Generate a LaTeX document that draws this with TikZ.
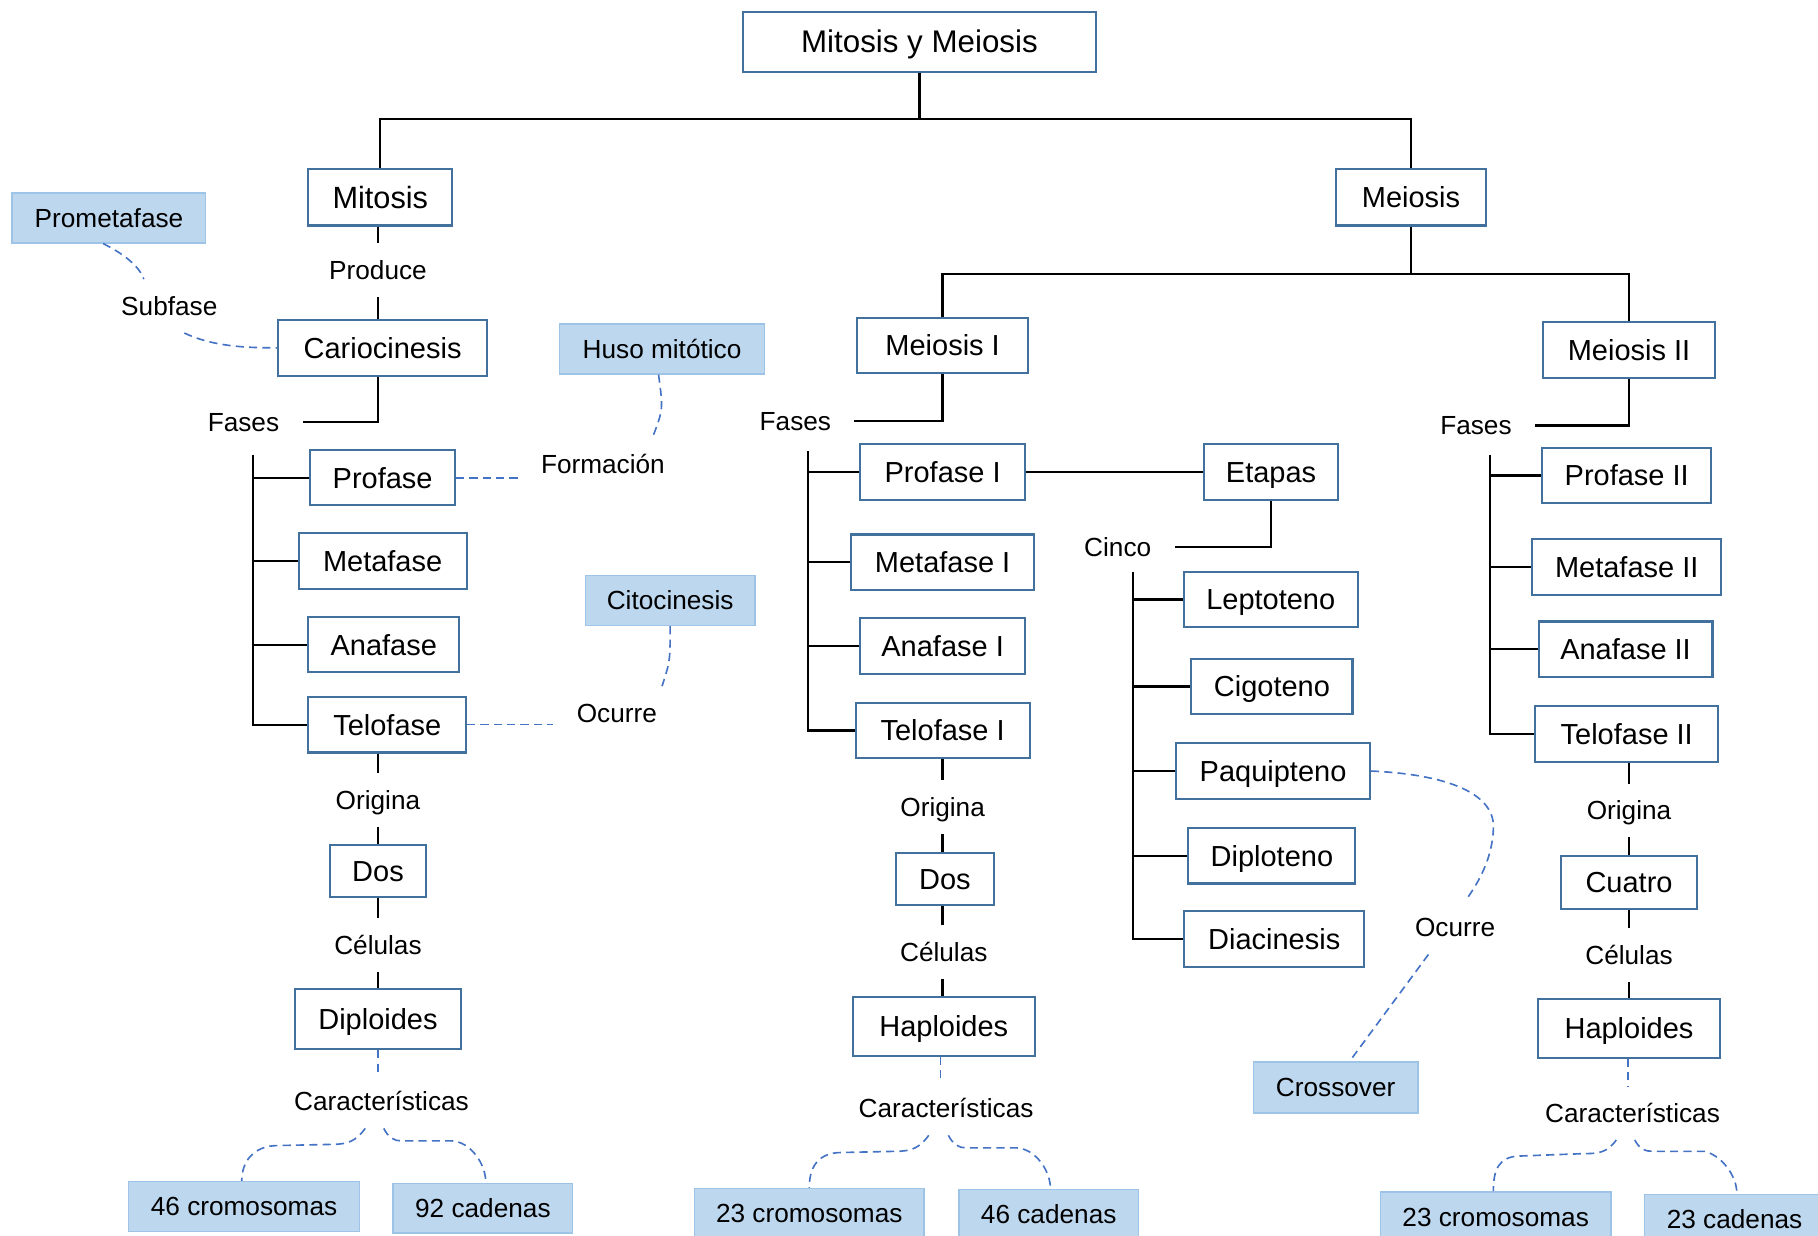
\documentclass[tikz,border=0pt]{standalone}
\usepackage{fontspec}
\setmainfont{Liberation Sans}
\usepackage{tikz}
\usepackage{xcolor}
\usetikzlibrary{positioning}

\definecolor{boxline}{RGB}{65,113,156}
\definecolor{notefill}{RGB}{189,215,238}
\definecolor{noteline}{RGB}{157,195,230}
\definecolor{dashblue}{RGB}{68,114,196}

\tikzset{
  phase/.style={draw=boxline, line width=1.8pt, fill=white, inner xsep=8pt, inner ysep=0pt,
    text height=17.9pt, text depth=0pt, minimum height=48pt, font=\fontsize{25}{30}\selectfont},
  note/.style={draw=noteline, line width=1.2pt, fill=notefill, inner xsep=8pt, inner ysep=0pt,
    text height=16.2pt, text depth=0pt, minimum height=43pt, font=\fontsize{22.6}{27}\selectfont},
  lbl/.style={inner xsep=20pt, inner ysep=0pt, text height=16.2pt, text depth=0pt,
    minimum height=46pt, font=\fontsize{22.6}{27}\selectfont},
  link/.style={line width=2pt},
  dashline/.style={dashblue, line width=1.4pt, dash pattern=on 7pt off 4.5pt},
}

\begin{document}
\begin{tikzpicture}[x=1pt, y=-1pt]
\useasboundingbox (0,0) rectangle (1568,1066);
\clip (0,0) rectangle (1568,1066);

% top of the tree
\node[phase, minimum width=304pt, minimum height=52pt, text height=19.3pt, font=\fontsize{27}{32}\selectfont] (root) at (793,36) {Mitosis y Meiosis};
\node[phase, minimum width=124pt, minimum height=49pt, text height=19pt, font=\fontsize{26.5}{32}\selectfont] (mitosis) at (328,170) {Mitosis};
\node[phase, minimum width=129pt, minimum height=49pt] (meiosis) at (1217,170) {Meiosis};

\draw[link] (root.south) -- ++(0,40) coordinate (split);
\draw[link] (split) -| (mitosis.north);
\draw[link] (split) -| (meiosis.north);

% mitosis
\node[lbl] (produce) at (326,233) {Produce};
\node[phase, minimum width=180pt] (cario) at (330,300) {Cariocinesis};
\node[note, minimum width=167pt] (prometa) at (94,188) {Prometafase};
\node[lbl] (subfase) at (146,264) {Subfase};
\node[lbl] (fases1) at (210,364) {Fases};
\node[phase, minimum width=125pt, minimum height=47pt] (prof) at (330,412) {Profase};
\node[phase, minimum width=145pt] (meta) at (330,484) {Metafase};
\node[phase, minimum width=130pt, minimum height=47pt] (ana) at (331,556) {Anafase};
\node[phase, minimum width=136pt] (telo) at (334,625) {Telofase};
\node[note, minimum width=177pt] (huso) at (571,301) {Huso mitótico};
\node[lbl] (formacion) at (520,400) {Formación};
\node[note, minimum width=146pt] (cito) at (578,518) {Citocinesis};
\node[lbl] (ocurre1) at (532,615) {Ocurre};
\node[lbl] (origina1) at (326,690) {Origina};
\node[phase, minimum width=83pt, minimum height=45pt] (dos1) at (326,751) {Dos};
\node[lbl] (celulas1) at (326,815) {Células};
\node[phase, minimum width=143pt, minimum height=52pt] (diplo) at (326,879) {Diploides};
\node[lbl] (car1) at (329,950) {Características};
\node[note, minimum width=199pt] (cro1) at (210.5,1040.5) {46 cromosomas};
\node[note, minimum width=155pt] (cad1) at (416.5,1042) {92 cadenas};

\draw[link] (mitosis.south -| produce) -- (produce.north);
\draw[link] (produce.south) -- (produce.south |- cario.north);
\draw[link] (cario.south -| produce) |- (fases1.east);
\coordinate (b1) at (218,392);
\draw[link] (b1) |- (telo.west);
\foreach \n in {prof,meta,ana} \draw[link] (b1 |- \n.west) -- (\n.west);

\draw[dashline] ([xshift=-5pt]prometa.south) .. controls +(16,8) and +(-4,-12) .. ([xshift=-22pt]subfase.north);
\draw[dashline] ([xshift=13pt]subfase.south) .. controls +(25,12) and +(-25,0) .. (cario.west);
\draw[dashline] (prof.east) -- (prof.east -| formacion.west);
\draw[dashline] ([xshift=-3pt]huso.south) .. controls +(4,30) .. ([xshift=43pt]formacion.north);
\draw[dashline] (telo.east) -- (telo.east -| ocurre1.west);
\draw[dashline] (cito.south) .. controls +(0,30) .. ([xshift=39pt]ocurre1.north);

\draw[link] (telo.south -| origina1) -- (origina1.north);
\draw[link] (origina1.south) -- (dos1.north);
\draw[link] (dos1.south) -- (celulas1.north);
\draw[link] (celulas1.south) -- (diplo.north);
\draw[dashline] (diplo.south) -- (diplo.south |- car1.north);
\draw[dashline] ([xshift=-14pt]car1.south) .. controls +(-8,11) and +(14,0) .. (286,987) -- (240,988)
  .. controls +(-22,0) and +(0,-16) .. ([xshift=-2pt]cro1.north);
\draw[dashline] ([xshift=2pt]car1.south) .. controls +(4,8) and +(-6,0) .. (346,984) -- (390,984)
  .. controls +(16,1) and +(0,-16) .. ([xshift=2.5pt]cad1.north);

% meiosis I
\node[phase, minimum width=147pt] (meio1) at (813,298) {Meiosis I};
\node[phase, minimum width=148pt] (meio2) at (1405,302) {Meiosis II};
\draw[link] (meiosis.south) -- ++(0,41) coordinate (split2);
\draw[link] (split2) -| (meio1.north);
\draw[link] (split2) -| (meio2.north);

\node[lbl] (fases2) at (686,363) {Fases};
\node[phase, minimum width=142pt] (prof1) at (813,407) {Profase I};
\node[phase, minimum width=158pt] (meta1) at (813,485) {Metafase I};
\node[phase, minimum width=142pt] (ana1) at (813,557) {Anafase I};
\node[phase, minimum width=150pt] (telo1) at (813,630) {Telofase I};
\node[lbl] (origina2) at (813,696) {Origina};
\node[phase, minimum width=84pt, minimum height=45pt] (dos2) at (815,758) {Dos};
\node[lbl] (celulas2) at (814,821) {Células};
\node[phase, minimum width=157pt, minimum height=51pt] (haplo1) at (814,885) {Haploides};
\node[lbl] (car2) at (816,956) {Características};
\node[note, minimum width=198pt] (cro2) at (698,1046.5) {23 cromosomas};
\node[note, minimum width=155pt] (cad2) at (904.5,1047.5) {46 cadenas};

\draw[link] (meio1.south) |- (fases2.east);
\coordinate (b2) at (697,389);
\draw[link] (b2) |- (telo1.west);
\foreach \n in {prof1,meta1,ana1} \draw[link] (b2 |- \n.west) -- (\n.west);

\draw[link] (telo1.south -| origina2) -- (origina2.north);
\draw[link] (origina2.south) -- (origina2.south |- dos2.north);
\draw[link] (dos2.south -| origina2) -- (origina2 |- celulas2.north);
\draw[link] (celulas2.south -| origina2) -- (origina2 |- haplo1.north);
\draw[dashline] ([xshift=-3pt]haplo1.south) -- ([xshift=-3pt]haplo1.south |- car2.north);
\draw[dashline] ([xshift=-15pt]car2.south) .. controls +(-8,11) and +(14,0) .. (772,993) -- (726,994)
  .. controls +(-22,0) and +(0,-16) .. (cro2.north);
\draw[dashline] ([xshift=2pt]car2.south) .. controls +(4,8) and +(-6,0) .. (833,990) -- (877,990)
  .. controls +(16,1) and +(0,-16) .. ([xshift=1.5pt]cad2.north);

% etapas of profase I
\node[phase, right=153pt of prof1, minimum width=115pt] (etapas) {Etapas};
\draw[link] (prof1) -- (etapas);
\node[lbl] (cinco) at (964,472) {Cinco};
\draw[link] (etapas.south) |- (cinco.east);
\node[phase, minimum width=150pt] (lepto) at (1096,517) {Leptoteno};
\node[phase, minimum width=139pt] (cigo) at (1097,592) {Cigoteno};
\node[phase, minimum width=167pt] (paqui) at (1098,665) {Paquipteno};
\node[phase, minimum width=144pt] (diplot) at (1097,738) {Diploteno};
\node[phase, minimum width=155pt] (diaci) at (1099,810) {Diacinesis};
\coordinate (b4) at (977,493);
\draw[link] (b4) |- (diaci.west);
\foreach \n in {lepto,cigo,paqui,diplot} \draw[link] (b4 |- \n.west) -- (\n.west);

\node[lbl] (ocurre2) at (1255,800) {Ocurre};
\node[note, minimum width=142pt, minimum height=44pt] (cross) at (1152,938) {Crossover};
\draw[dashline] (paqui.east) .. controls (1250,668) and (1290,685) .. (1288,715)
  .. controls (1287,740) and (1276,760) .. ([xshift=9pt]ocurre2.north);
\draw[dashline] ([xshift=-23pt]ocurre2.south) -- ([xshift=12pt]cross.north);

% meiosis II
\node[lbl] (fases3) at (1273,367) {Fases};
\node[phase, minimum width=146pt] (prof2) at (1403,410) {Profase II};
\node[phase, minimum width=163pt] (meta2) at (1403,489) {Metafase II};
\node[phase, minimum width=150pt] (ana2) at (1402,560) {Anafase II};
\node[phase, minimum width=158pt] (telo2) at (1403,633) {Telofase II};
\node[lbl] (origina3) at (1405,699) {Origina};
\node[phase, minimum width=118pt, minimum height=46pt] (cuatro) at (1405,761) {Cuatro};
\node[lbl] (celulas3) at (1405,824) {Células};
\node[phase, minimum width=157pt, minimum height=51pt] (haplo2) at (1405,887) {Haploides};
\node[lbl] (car3) at (1408,960) {Características};
\node[note, minimum width=199pt] (cro3) at (1290,1049.5) {23 cromosomas};
\node[note, minimum width=155pt] (cad3) at (1496,1051.5) {23 cadenas};

\draw[link] (meio2.south) |- (fases3.east);
\coordinate (b3) at (1285,392);
\draw[link] (b3) |- (telo2.west);
\foreach \n in {prof2,meta2,ana2} \draw[link] (b3 |- \n.west) -- (\n.west);

\draw[link] (telo2.south -| origina3) -- (origina3.north);
\draw[link] (origina3.south) -- (cuatro.north);
\draw[link] (cuatro.south) -- (celulas3.north);
\draw[link] (celulas3.south) -- (haplo2.north);
\draw[dashline] ([xshift=-1pt]haplo2.south) -- ([xshift=-1pt]haplo2.south |- car3.north);
\draw[dashline] ([xshift=-14pt]car3.south) .. controls +(-8,11) and +(14,0) .. (1365,995) -- (1312,997)
  .. controls +(-20,0) and +(0,-18) .. ([xshift=-2pt]cro3.north);
\draw[dashline] ([xshift=2pt]car3.south) .. controls +(4,8) and +(-6,0) .. (1425,993) -- (1470,993)
  .. controls +(14,3) and +(0,-16) .. ([xshift=2pt]cad3.north);
\end{tikzpicture}
\end{document}
